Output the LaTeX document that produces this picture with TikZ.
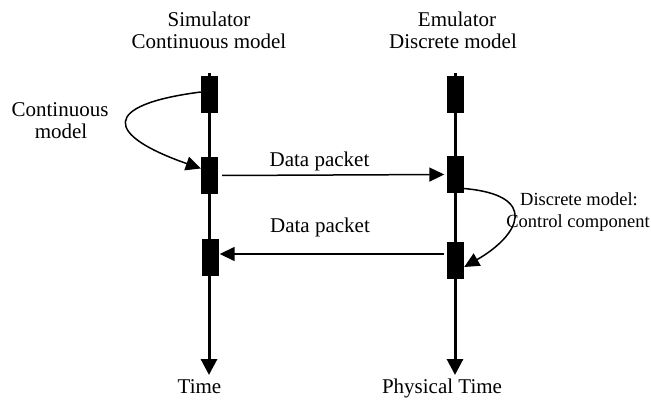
\documentclass[tikz,border=0pt]{standalone}
\usepackage{fontspec}
\setmainfont{Liberation Serif}
\usetikzlibrary{arrows.meta}
\begin{document}
\begin{tikzpicture}[x=1pt,y=-1pt,
  lbl/.style={font=\fontsize{21}{22}\selectfont, inner sep=0pt, anchor=base},
  small/.style={font=\fontsize{18.5}{20}\selectfont, inner sep=0pt, anchor=base},
  blk/.style={fill=black, draw=none, minimum width=17pt, minimum height=37pt, inner sep=0pt},
  axis/.style={line width=3pt, -{Triangle[length=16pt,width=16pt]}},
  pkt/.style={line width=1.5pt, -{Triangle[length=15pt,width=14pt]}},
  flow/.style={line width=1.5pt, -{Triangle[length=15pt,width=14pt]}}]
\useasboundingbox (0,0) rectangle (651,401);

% time lines
\coordinate (ltop) at (209,73);
\coordinate (lbot) at (209,375);
\coordinate (rtop) at (455,73);
\coordinate (rbot) at (455,375);
\draw[axis] (ltop) -- (lbot);
\draw[axis] (rtop) -- (rbot);

% activity blocks
\node[blk] (l1) at (209.5,95) {};
\node[blk] (l2) at (209.5,175.5) {};
\node[blk] (l3) at (210,257.5) {};
\node[blk] (r1) at (455,94.5) {};
\node[blk] (r2) at (455,174.5) {};
\node[blk] (r4) at (455.5,260.5) {};

% headers
\node[lbl] (h1) at (209,27) {Simulator};
\node[lbl] (h2) at (209,49) {Continuous model};
\node[lbl] (h3) at (457,27) {Emulator};
\node[lbl] (h4) at (453,49) {Discrete model};

% axis labels
\node[lbl] (t1) at (199.5,393) {Time};
\node[lbl] (t2) at (442,393) {Physical Time};

% data exchange
\draw[pkt] ([xshift=4pt]l2.east) -- ([xshift=-2pt]r2.west);
\node[lbl] (d1) at (319.5,167) {Data packet};
\draw[pkt] ([shift={(-3pt,6.5pt)}]r4.west) -- ([shift={(1pt,3.5pt)}]l3.east);
\node[lbl] (d2) at (320,233) {Data packet};

% model steps
\draw[flow] ([yshift=3pt]l1.west) .. controls (100,105) and (105,135) .. ([yshift=7pt]l2.west);
\node[lbl] (c1) at (60,117) {Continuous};
\node[lbl] (c2) at (61,139) {model};

\draw[flow] ([yshift=-14pt]r2.east) .. controls (540,195) and (520,235) .. ([yshift=-6.5pt]r4.east);
\node[small] (k1) at (579,205) {Discrete model:};
\node[small] (k2) at (578,227) {Control component};
\end{tikzpicture}
\end{document}
